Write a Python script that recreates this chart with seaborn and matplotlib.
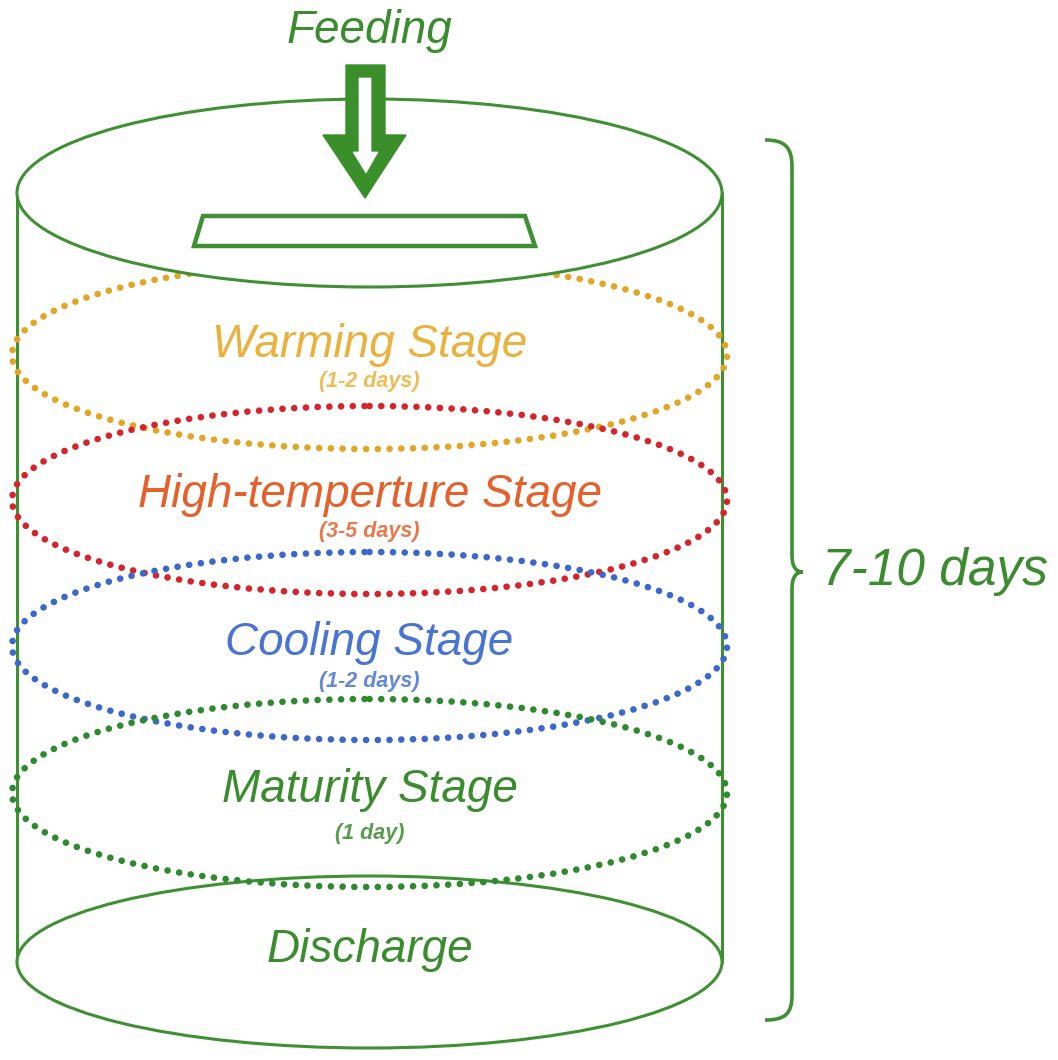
import matplotlib
matplotlib.use("Agg")
import matplotlib.pyplot as plt
import seaborn as sns
import pandas as pd
from matplotlib.patches import Ellipse, Polygon, PathPatch
from matplotlib.path import Path

# ---- content ----
stage_names = ["Warming Stage", "High-temperture Stage", "Cooling Stage", "Maturity Stage"]
stage_durations = ["(1-2 days)", "(3-5 days)", "(1-2 days)", "(1 day)"]
top_label = "Feeding"
bottom_label = "Discharge"
total_label = "7-10 days"

# ---- styles ----
ring_colors = ["#E2A626", "#D6242C", "#3C69C9", "#2F8A2F"]
text_colors = ["#EAB23C", "#E6602C", "#4A74D2", "#3A8C2E"]
green = "#3F8F33"

# ---- layout (pixel coordinates) ----
cx = 369.5
cyl_w = 705
top_cy, top_h = 193, 188
bot_cy, bot_h = 962, 172
ring_w, ring_h = 715, 188
ring_cy = [355, 500, 646, 793]
name_y = [345, 495, 643, 790]
dur_y = [382, 532, 682, 834]

sns.set_theme(style="white")
plt.rcParams['font.family'] = ['Liberation Sans', 'DejaVu Sans']

fig = plt.figure(figsize=(10.58, 10.60), dpi=100)
ax = fig.add_axes([0, 0, 1, 1])

# cylinder walls
walls = pd.DataFrame({
    "x": [cx - cyl_w / 2, cx - cyl_w / 2, cx + cyl_w / 2, cx + cyl_w / 2],
    "y": [top_cy, bot_cy, top_cy, bot_cy],
    "side": ["L", "L", "R", "R"],
})
for side, d in walls.groupby("side"):
    sns.lineplot(data=d, x="x", y="y", ax=ax, color=green, lw=2.2,
                 sort=False, estimator=None, legend=False, zorder=1)
ax.set_xlim(0, 1058)
ax.set_ylim(1060, 0)
ax.set_xlabel("")
ax.set_ylabel("")
ax.axis("off")

# bottom ellipse
ax.add_patch(Ellipse((cx, bot_cy), cyl_w, bot_h, facecolor="white",
                     edgecolor=green, lw=2.2, zorder=1.5))

# dotted stage rings
for i in range(len(stage_names)):
    e = Ellipse((cx, ring_cy[i]), ring_w, ring_h, fill=False,
                edgecolor=ring_colors[i], lw=4.8,
                linestyle=(0, (0.01, 1.75)), zorder=2 + i * 0.1)
    e.set_capstyle("round")
    ax.add_patch(e)

# top ellipse (covers warming ring top)
ax.add_patch(Ellipse((cx, top_cy), cyl_w, top_h, facecolor="white",
                     edgecolor=green, lw=2.2, zorder=3))

# trapezoid inlet
ax.add_patch(Polygon([(203, 216), (525, 216), (535, 246), (194, 246)],
                     closed=True, fill=False, edgecolor=green, lw=3.2, zorder=4))

# hollow arrow
outer = [(346, 65), (385, 65), (385, 135), (406, 135), (365, 198), (323, 135), (346, 135)]
inner = [(359, 78), (371, 78), (371, 152), (378, 152), (366, 173), (353, 152), (359, 152)]
ax.add_patch(Polygon(outer, closed=True, facecolor="#3A8F2A", edgecolor="#3A8F2A", lw=1, zorder=5))
ax.add_patch(Polygon(inner, closed=True, facecolor="white", edgecolor="white", lw=0.5, zorder=6))

# brace
verts = [(765, 140), (785, 140), (792, 147), (792, 167),
         (792, 555),
         (792, 567), (796, 572), (803, 572),
         (796, 572), (792, 577), (792, 589),
         (792, 995),
         (792, 1014), (785, 1020), (765, 1020)]
codes = [Path.MOVETO, Path.CURVE4, Path.CURVE4, Path.CURVE4,
         Path.LINETO,
         Path.CURVE4, Path.CURVE4, Path.CURVE4,
         Path.CURVE4, Path.CURVE4, Path.CURVE4,
         Path.LINETO,
         Path.CURVE4, Path.CURVE4, Path.CURVE4]
ax.add_patch(PathPatch(Path(verts, codes), fill=False, edgecolor=green, lw=2.6, zorder=4))

# texts
ax.text(cx, 31, top_label, ha="center", va="center", fontsize=33, style="italic",
        color="#3B8C2E", zorder=7)
for i in range(len(stage_names)):
    ax.text(cx, name_y[i], stage_names[i], ha="center", va="center", fontsize=33,
            style="italic", color=text_colors[i], zorder=7)
    ax.text(cx, dur_y[i], stage_durations[i], ha="center", va="center", fontsize=15.5,
            style="italic", fontweight="bold", color=text_colors[i], alpha=0.85, zorder=7)
ax.text(cx, 950, bottom_label, ha="center", va="center", fontsize=33, style="italic",
        color="#3B8C2E", zorder=7)
ax.text(822, 572, total_label, ha="left", va="center", fontsize=37, style="italic",
        color="#3B8C2E", zorder=7)

fig.savefig("out.png", dpi=100, facecolor="white")
